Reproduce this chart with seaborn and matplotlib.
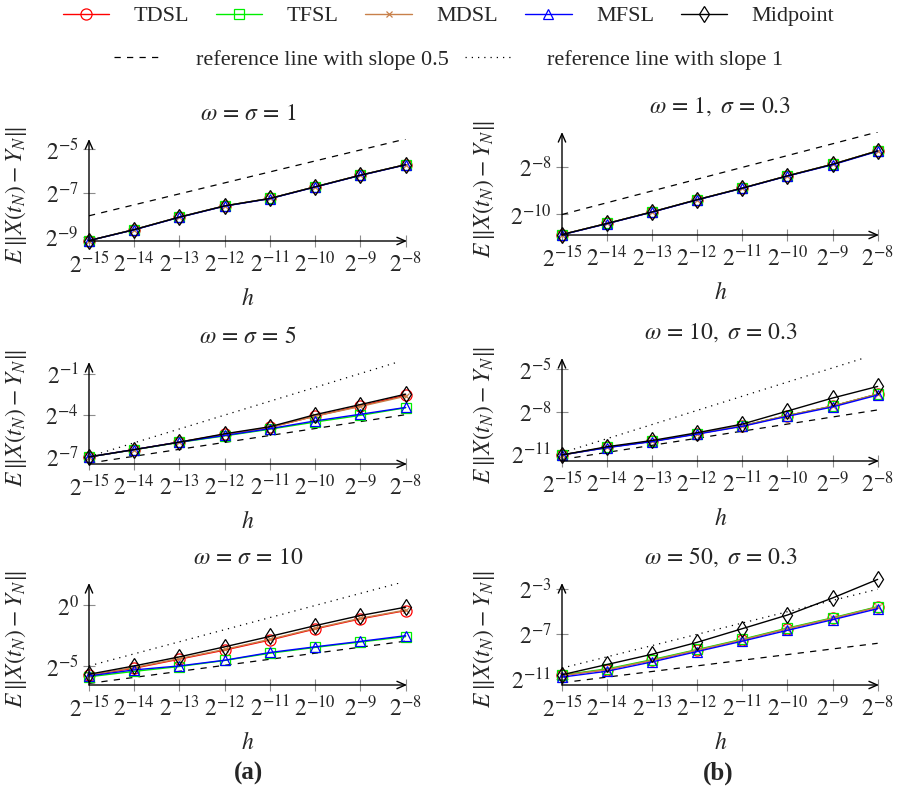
import numpy as np
import matplotlib
matplotlib.use("Agg")
import matplotlib.pyplot as plt
import seaborn as sns
from matplotlib.lines import Line2D
from matplotlib.ticker import FuncFormatter, FixedLocator

# step sizes h = 2^k
h_exp = [-15, -14, -13, -12, -11, -10, -9, -8]
methods = ["TDSL", "TFSL", "MDSL", "MFSL", "Midpoint"]

# log2 of the error, one list per panel and method
a1_tdsl = [-9.18, -8.68, -8.11, -7.60, -7.26, -6.73, -6.20, -5.72]
a1_tfsl = [-9.18, -8.68, -8.11, -7.60, -7.26, -6.73, -6.20, -5.72]
a1_mdsl = [-9.18, -8.68, -8.11, -7.60, -7.26, -6.73, -6.20, -5.72]
a1_mfsl = [-9.18, -8.69, -8.12, -7.61, -7.27, -6.74, -6.21, -5.73]
a1_mid = [-9.18, -8.68, -8.11, -7.60, -7.26, -6.73, -6.20, -5.72]

b1_tdsl = [-10.85, -10.38, -9.89, -9.37, -8.88, -8.36, -7.87, -7.30]
b1_tfsl = [-10.85, -10.38, -9.89, -9.37, -8.88, -8.36, -7.87, -7.30]
b1_mdsl = [-10.85, -10.38, -9.89, -9.37, -8.88, -8.36, -7.87, -7.30]
b1_mfsl = [-10.86, -10.39, -9.90, -9.38, -8.89, -8.37, -7.89, -7.32]
b1_mid = [-10.85, -10.38, -9.89, -9.37, -8.88, -8.36, -7.87, -7.30]

a2_tdsl = [-7.00, -6.47, -5.93, -5.38, -4.87, -4.05, -3.32, -2.55]
a2_tfsl = [-7.00, -6.48, -5.95, -5.48, -5.00, -4.48, -4.00, -3.45]
a2_mdsl = [-7.00, -6.47, -5.93, -5.37, -4.86, -4.06, -3.36, -2.62]
a2_mfsl = [-7.00, -6.47, -5.93, -5.45, -4.96, -4.40, -3.92, -3.43]
a2_mid = [-7.00, -6.47, -5.93, -5.33, -4.82, -3.95, -3.22, -2.47]

b2_tdsl = [-11.05, -10.52, -10.08, -9.55, -8.99, -8.27, -7.60, -6.75]
b2_tfsl = [-11.05, -10.52, -10.08, -9.55, -8.99, -8.27, -7.60, -6.75]
b2_mdsl = [-11.05, -10.52, -10.08, -9.55, -8.99, -8.27, -7.60, -6.75]
b2_mfsl = [-11.05, -10.54, -10.11, -9.58, -9.03, -8.32, -7.66, -6.82]
b2_mid = [-11.05, -10.47, -10.03, -9.48, -8.87, -7.95, -7.03, -6.21]

a3_tdsl = [-5.78, -5.19, -4.44, -3.69, -2.86, -1.94, -1.11, -0.42]
a3_tfsl = [-5.90, -5.45, -5.05, -4.55, -3.95, -3.47, -3.02, -2.58]
a3_mdsl = [-5.75, -5.14, -4.39, -3.63, -2.80, -1.89, -1.06, -0.38]
a3_mfsl = [-5.83, -5.33, -5.00, -4.53, -3.89, -3.42, -2.97, -2.50]
a3_mid = [-5.69, -5.00, -4.25, -3.42, -2.56, -1.67, -0.83, -0.14]

b3_tdsl = [-10.70, -10.18, -9.36, -8.45, -7.54, -6.55, -5.64, -4.64]
b3_tfsl = [-10.66, -10.12, -9.30, -8.40, -7.49, -6.50, -5.59, -4.60]
b3_mdsl = [-10.70, -10.18, -9.36, -8.45, -7.54, -6.55, -5.64, -4.64]
b3_mfsl = [-10.85, -10.33, -9.50, -8.58, -7.66, -6.70, -5.76, -4.78]
b3_mid = [-10.64, -9.73, -8.82, -7.76, -6.55, -5.34, -3.83, -2.18]

titles = [r"$\omega\,=\,\sigma\,=\,1$", r"$\omega\,=\,1,\ \sigma\,=\,0.3$",
          r"$\omega\,=\,\sigma\,=\,5$", r"$\omega\,=\,10,\ \sigma\,=\,0.3$",
          r"$\omega\,=\,\sigma\,=\,10$", r"$\omega\,=\,50,\ \sigma\,=\,0.3$"]
# log2 of the reference lines at h = 2^-15 (None = not drawn)
ref_half_start = [-8.05, -10.0, -7.45, -11.37, -6.45, -11.35]
ref_one_start = [None, None, -6.98, -10.9, -5.0, -10.05]
ytick_exp = [[-9, -7, -5], [-10, -8], [-7, -4, -1], [-11, -8, -5], [-5, 0], [-11, -7, -3]]
ylims = [(-9.2, -4.55), (-10.87, -6.5), (-7.51, -0.15), (-11.48, -4.2), (-6.58, 1.86), (-11.55, -2.5)]

panel_data = [
    [a1_tdsl, a1_tfsl, a1_mdsl, a1_mfsl, a1_mid],
    [b1_tdsl, b1_tfsl, b1_mdsl, b1_mfsl, b1_mid],
    [a2_tdsl, a2_tfsl, a2_mdsl, a2_mfsl, a2_mid],
    [b2_tdsl, b2_tfsl, b2_mdsl, b2_mfsl, b2_mid],
    [a3_tdsl, a3_tfsl, a3_mdsl, a3_mfsl, a3_mid],
    [b3_tdsl, b3_tfsl, b3_mdsl, b3_mfsl, b3_mid],
]

styles = {
    "TDSL": dict(color="#ff0000", marker="o", markersize=8),
    "TFSL": dict(color="#00ee00", marker="s", markersize=7.5),
    "MDSL": dict(color="#c8804a", marker="x", markersize=5),
    "MFSL": dict(color="#0000ff", marker="^", markersize=7.5),
    "Midpoint": dict(color="black", marker="d", markersize=8.5),
}
dash_half = (0, (5, 5))
dash_one = (0, (1, 4))

sns.set_theme(style="white")
plt.rcParams["font.family"] = ["Liberation Serif", "DejaVu Serif"]
plt.rcParams["mathtext.fontset"] = "stix"

fig = plt.figure(figsize=(8.97, 7.91), dpi=100)
W, H = 897.0, 791.0
# axes boxes in pixels: left, x-axis y, right, arrow top
col_x = [(89, 407), (562, 879)]
row_y = [[(241, 139), (235, 132)], [(464, 362), (461, 358)], [(685, 583), (685, 583)]]

h = 2.0 ** np.array(h_exp)
fmt = FuncFormatter(lambda v, p: r"$2^{%d}$" % int(round(np.log2(v))))

for i in range(6):
    r, c = divmod(i, 2)
    x0, x1 = col_x[c]
    yb, yt = row_y[r][c]
    ax = fig.add_axes([x0 / W, 1 - yb / H, (x1 - x0) / W, (yb - yt) / H])
    ax.set_xscale("log", base=2)
    ax.set_yscale("log", base=2)
    ax.set_facecolor("none")

    for name, vals in zip(methods, panel_data[i]):
        st = styles[name]
        sns.lineplot(x=h, y=2.0 ** np.array(vals), ax=ax, color=st["color"],
                     marker=st["marker"], markersize=st["markersize"],
                     markerfacecolor="none", markeredgecolor=st["color"],
                     markeredgewidth=0.9, linewidth=1.0, estimator=None,
                     sort=False, clip_on=False, zorder=3, legend=False)

    xs = np.array(h_exp, dtype=float)
    half = 2.0 ** (ref_half_start[i] + 0.5 * (xs - xs[0]))
    sns.lineplot(x=h, y=half, ax=ax, color="black", linewidth=0.9,
                 linestyle=dash_half, estimator=None, legend=False, zorder=2)
    if ref_one_start[i] is not None:
        one = 2.0 ** (ref_one_start[i] + 1.0 * (xs - xs[0]))
        sns.lineplot(x=h, y=one, ax=ax, color="black", linewidth=0.9,
                     linestyle=dash_one, estimator=None, legend=False, zorder=2)

    ax.set_xlim(2.0 ** -15, 2.0 ** -7.97)
    ax.set_ylim(2.0 ** ylims[i][0], 2.0 ** ylims[i][1])
    ax.xaxis.set_major_locator(FixedLocator(h))
    ax.yaxis.set_major_locator(FixedLocator(2.0 ** np.array(ytick_exp[i], dtype=float)))
    ax.xaxis.set_major_formatter(fmt)
    ax.yaxis.set_major_formatter(fmt)
    ax.minorticks_off()
    ax.tick_params(axis="both", which="major", direction="inout", length=9,
                   width=0.8, color="0.55", labelsize=17, pad=3,
                   bottom=True, left=True)
    for s in ax.spines.values():
        s.set_visible(False)
    arrow = dict(arrowstyle="->,head_length=0.5,head_width=0.22", lw=1.0, color="black",
                 shrinkA=0, shrinkB=0)
    ax.annotate("", xy=(1.0, 0), xytext=(0, 0), xycoords="axes fraction", arrowprops=arrow)
    ax.annotate("", xy=(0, 1.0), xytext=(0, 0), xycoords="axes fraction", arrowprops=arrow)

    ax.set_title(titles[i], fontsize=17, pad=14)
    ax.set_xlabel(r"$h$", fontsize=17, labelpad=8)
    ax.set_ylabel(r"$E\,\|X(t_N)-Y_N\|$", fontsize=17)
    ax.yaxis.set_label_coords(-0.19 if c == 0 else -0.205, 0.45)

# legend
method_handles = [Line2D([], [], linewidth=1.0, markerfacecolor="none",
                         markeredgecolor=styles[m]["color"], markeredgewidth=0.9,
                         **styles[m]) for m in methods]
fig.legend(method_handles, methods, loc="upper center", bbox_to_anchor=(0.5, 1.018),
           ncol=5, frameon=False, fontsize=16, handlelength=2.1,
           handletextpad=1.1, columnspacing=1.2, numpoints=1)
ref_handles = [Line2D([], [], color="black", linewidth=0.9, linestyle=dash_half),
               Line2D([], [], color="black", linewidth=0.9, linestyle=dash_one)]
fig.legend(ref_handles, ["reference line with slope 0.5", "reference line with slope 1"],
           loc="upper center", bbox_to_anchor=(0.5, 0.963), ncol=2, frameon=False,
           fontsize=16, handlelength=2.1, handletextpad=1.6, columnspacing=0.7)

fig.text(248 / W, 1 - 773 / H, "(a)", ha="center", va="center", fontsize=18, fontweight="bold")
fig.text(718 / W, 1 - 773 / H, "(b)", ha="center", va="center", fontsize=18, fontweight="bold")

fig.savefig("out.png", dpi=100)
